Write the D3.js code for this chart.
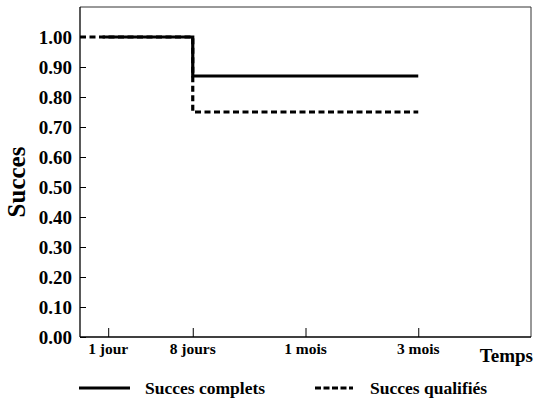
<!DOCTYPE html>
<html>
<head>
<meta charset="utf-8">
<script src="https://cdn.jsdelivr.net/npm/d3@7"></script>
<style>
  body { margin: 0; background: #fff; }
  text { font-family: "Liberation Serif", "Times New Roman", serif; font-weight: bold; fill: #000; }
</style>
</head>
<body>
<svg id="chart" width="534" height="403"></svg>
<script>
// data
const timeLabels = ["1 jour", "8 jours", "1 mois", "3 mois"];
const timePos = [1, 4, 8, 12];
const yTicks = [0, 0.1, 0.2, 0.3, 0.4, 0.5, 0.6, 0.7, 0.8, 0.9, 1.0];
const completX = [0.8, 4, 4, 12];
const completY = [1.00, 1.00, 0.87, 0.87];
const qualifX = [0, 4, 4, 12];
const qualifY = [1.00, 1.00, 0.75, 0.75];

const svg = d3.select("#chart");
const mLeft = 80, mRight = 531, mTop = 7, mBottom = 337;

const x = d3.scaleLinear().domain([0, 16]).range([mLeft, mRight]);
const y = d3.scaleLinear().domain([0, 1]).range([mBottom, 37]);

// frame
svg.append("path")
  .attr("d", `M${mLeft},${mTop}H${mRight}V${mBottom}`)
  .attr("fill", "none").attr("stroke", "#333").attr("stroke-width", 1);

// y axis (ticks inside)
const yAxis = svg.append("g").attr("transform", `translate(${mLeft},0)`)
  .call(d3.axisRight(y).tickValues(yTicks).tickSize(6).tickFormat(""));
yAxis.select(".domain").attr("d", `M0,${mTop}V${mBottom}`).attr("stroke-width", 1.3);
svg.selectAll(".ylab").data(yTicks).enter().append("text")
  .attr("x", 72).attr("y", d => y(d) + 6.5)
  .attr("text-anchor", "end").style("font-size", "19px")
  .text(d => d.toFixed(2));

// x axis (ticks inside)
const xAxis = svg.append("g").attr("transform", `translate(0,${mBottom})`)
  .call(d3.axisTop(x).tickValues(timePos).tickSize(9).tickFormat(""));
xAxis.select(".domain").attr("d", `M${mLeft},0H${mRight}`).attr("stroke-width", 1.5);
svg.selectAll(".xlab").data(timePos).enter().append("text")
  .attr("x", d => x(d)).attr("y", 354)
  .attr("text-anchor", "middle").style("font-size", "15.5px")
  .text((d, i) => timeLabels[i]);

svg.append("text").attr("x", 533).attr("y", 362).attr("text-anchor", "end")
  .style("font-size", "19px").text("Temps");
svg.append("text").attr("transform", "translate(25,182) rotate(-90)")
  .attr("text-anchor", "middle").style("font-size", "25px").text("Succes");

// lines
const line = d3.line().x(d => x(d[0])).y(d => y(d[1]));
svg.append("path").datum(d3.zip(qualifX, qualifY))
  .attr("d", line).attr("fill", "none").attr("stroke", "#000")
  .attr("stroke-width", 3.2).attr("stroke-dasharray", "6,3.5");
svg.append("path").datum(d3.zip(completX, completY))
  .attr("d", line).attr("fill", "none").attr("stroke", "#000")
  .attr("stroke-width", 3.2);

// legend
svg.append("line").attr("x1", 79).attr("x2", 130).attr("y1", 388).attr("y2", 388)
  .attr("stroke", "#000").attr("stroke-width", 3.2);
svg.append("text").attr("x", 145).attr("y", 394).style("font-size", "17.5px").text("Succes complets");
svg.append("line").attr("x1", 315).attr("x2", 353).attr("y1", 388).attr("y2", 388)
  .attr("stroke", "#000").attr("stroke-width", 3.2).attr("stroke-dasharray", "6,2.5");
svg.append("text").attr("x", 370).attr("y", 394).style("font-size", "17.5px").text("Succes qualifiés");
</script>
</body>
</html>
